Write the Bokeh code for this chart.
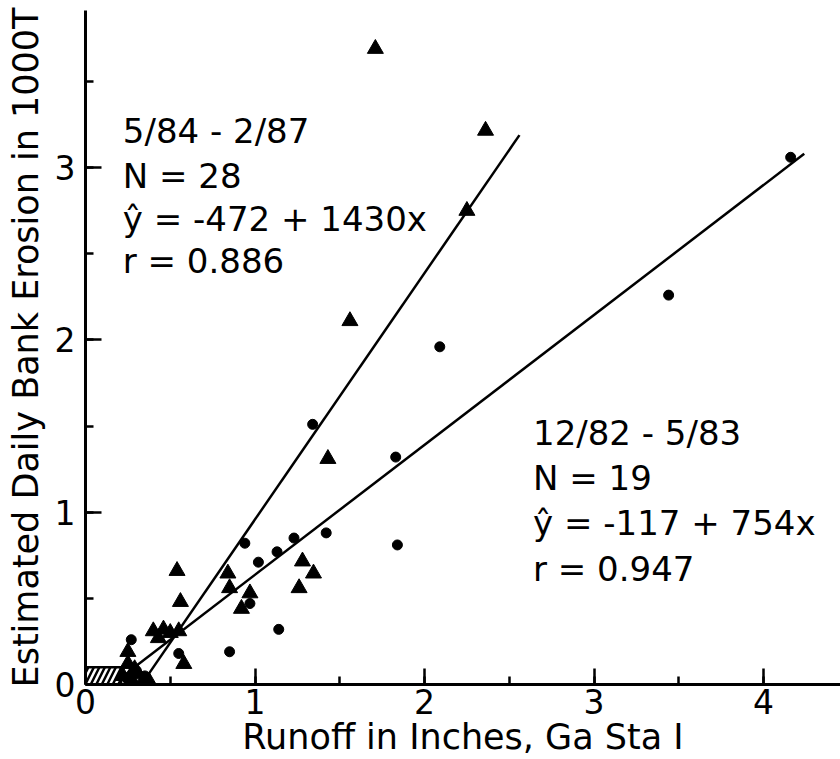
from bokeh.plotting import figure
from bokeh.models import Range1d, SingleIntervalTicker, Label, ColumnDataSource
from bokeh.embed import file_html
from bokeh.resources import INLINE

# ---- data (runoff in inches, erosion in 1000 T) ----
tri_x = [1.71, 2.36, 2.25, 1.56, 1.43, 1.28, 1.345, 1.26, 0.54, 0.56,
         0.84, 0.85, 0.97, 0.92, 0.40, 0.46, 0.50, 0.55, 0.43, 0.58,
         0.25, 0.25, 0.22, 0.27, 0.31, 0.34, 0.38, 0.29]
tri_y = [3.69, 3.215, 2.75, 2.11, 1.31, 0.715, 0.645, 0.56, 0.66, 0.48,
         0.645, 0.56, 0.53, 0.44, 0.31, 0.32, 0.30, 0.31, 0.27, 0.12,
         0.19, 0.12, 0.05, 0.03, 0.06, 0.02, 0.01, 0.09]

dot_x = [4.16, 3.44, 2.09, 1.34, 1.83, 1.42, 1.84, 1.23, 1.13, 1.02,
         0.94, 0.97, 0.55, 0.27, 0.85, 1.14, 0.30, 0.24, 0.35]
dot_y = [3.06, 2.26, 1.96, 1.51, 1.32, 0.88, 0.81, 0.85, 0.77, 0.71,
         0.82, 0.47, 0.18, 0.26, 0.19, 0.32, 0.08, 0.04, 0.05]

# regression lines (y in T): intercept, slope, x extent
fit_intercept = [-472, -117]
fit_slope = [1430, 754]
fit_x_start = [0.36, 0.25]
fit_x_end = [2.56, 4.24]

label_1 = ["5/84 - 2/87", "N = 28", "\u0177 = -472 + 1430x", "r = 0.886"]
label_2 = ["12/82 - 5/83", "N = 19", "\u0177 = -117 + 754x", "r = 0.947"]

hatch_box = dict(left=[0.0], right=[0.21], bottom=[0.0], top=[0.1])

FONT = "DejaVu Sans"

p = figure(width=840, height=759, output_backend="svg", toolbar_location=None,
           x_range=Range1d(0, 4.454), y_range=Range1d(0, 3.912),
           min_border_left=85, min_border_right=0, min_border_top=10,
           min_border_bottom=75)
p.outline_line_color = None
p.xgrid.visible = False
p.ygrid.visible = False
p.background_fill_color = "white"
p.border_fill_color = "white"

for ax, lab in ((p.xaxis[0], "Runoff in Inches, Ga Sta I"),
                (p.yaxis[0], "Estimated Daily Bank Erosion in 1000T")):
    ax.ticker = SingleIntervalTicker(interval=1, num_minor_ticks=2)
    ax.axis_label = lab
    ax.axis_label_text_font = FONT
    ax.axis_label_text_font_size = "35px"
    ax.axis_label_text_font_style = "normal"
    ax.axis_label_text_color = "black"
    ax.major_label_text_font = FONT
    ax.major_label_text_font_size = "33px"
    ax.major_label_text_color = "black"
    ax.axis_line_width = 3
    ax.axis_line_color = "black"
    ax.major_tick_in = 16
    ax.major_tick_out = 0
    ax.minor_tick_in = 8
    ax.minor_tick_out = 0
    ax.major_tick_line_width = 2.5
    ax.minor_tick_line_width = 2.5
    ax.major_tick_line_color = "black"
    ax.minor_tick_line_color = "black"

p.xaxis.major_label_standoff = 4
p.xaxis.axis_label_standoff = 0
p.yaxis.major_label_standoff = 10
p.yaxis.axis_label_standoff = 6

# hatched zone near origin
p.quad(source=ColumnDataSource(hatch_box), left="left", right="right",
       bottom="bottom", top="top", fill_color=None, line_color="black",
       line_width=2.5, hatch_pattern="right_diagonal_line",
       hatch_color="black", hatch_weight=2.5, hatch_scale=11)

# regression lines
for a, b, x0, x1 in zip(fit_intercept, fit_slope, fit_x_start, fit_x_end):
    xs = [x0, x1]
    ys = [(a + b * x) / 1000.0 for x in xs]
    p.line(xs, ys, line_color="black", line_width=2.5)

p.scatter(tri_x, tri_y, marker="triangle", size=16, fill_color="black",
          line_color="black")
p.scatter(dot_x, dot_y, marker="circle", size=10, fill_color="black",
          line_color="black")

# annotation blocks
base1 = [3.21, 2.95, 2.70, 2.46]
for t, yb in zip(label_1, base1):
    p.add_layout(Label(x=0.22, y=yb, text=t, text_font=FONT,
                       text_font_size="34px", text_color="black",
                       text_baseline="alphabetic"))
base2 = [1.46, 1.20, 0.94, 0.67]
for t, yb in zip(label_2, base2):
    p.add_layout(Label(x=2.64, y=yb, text=t, text_font=FONT,
                       text_font_size="34px", text_color="black",
                       text_baseline="alphabetic"))

open("out.html", "w").write(file_html(p, INLINE))
